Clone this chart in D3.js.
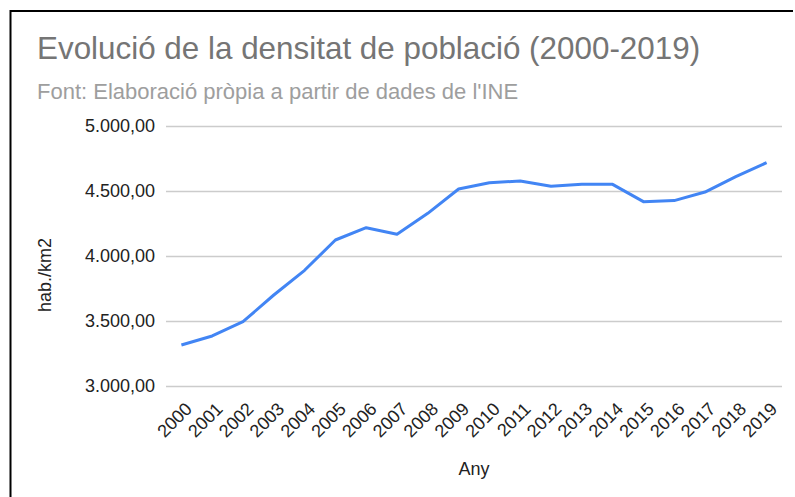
<!DOCTYPE html>
<html>
<head>
<meta charset="utf-8">
<script src="https://cdn.jsdelivr.net/npm/d3@7"></script>
<style>
    body { margin: 0; background: #fff; }
    text { font-family: Arial, "Liberation Sans", sans-serif; }
</style>
</head>
<body>
<div id="chart"></div>
<script>

// data
let years = ["2000", "2001", "2002", "2003", "2004", "2005", "2006", "2007", "2008", "2009",
             "2010", "2011", "2012", "2013", "2014", "2015", "2016", "2017", "2018", "2019"];
let density = [3315, 3385, 3495, 3700, 3890, 4123, 4218, 4167, 4328, 4515,
               4564, 4577, 4536, 4551, 4551, 4418, 4426, 4492, 4610, 4718];
let yTicks = [3000, 3500, 4000, 4500, 5000];

let titleText = "Evolució de la densitat de població (2000-2019)";
let subtitleText = "Font: Elaboració pròpia a partir de dades de l'INE";

let width = 795, height = 497;
let margin = {top: 126, right: 13, bottom: 111, left: 166};

let svg = d3.select("#chart").append("svg")
    .attr("width", width)
    .attr("height", height);

// frame (only top and left edges show)
svg.append("path")
    .attr("d", "M10.5,500 L10.5,11 L793,11")
    .attr("fill", "none")
    .attr("stroke", "#000")
    .attr("stroke-width", 2);

svg.append("text")
    .attr("x", 37)
    .attr("y", 59)
    .attr("font-size", "31.4px")
    .attr("fill", "#757575")
    .text(titleText);

svg.append("text")
    .attr("x", 37)
    .attr("y", 99)
    .attr("font-size", "22px")
    .attr("fill", "#9e9e9e")
    .text(subtitleText);

let x = d3.scalePoint()
    .domain(years)
    .range([margin.left, width - margin.right])
    .padding(0.5);

let y = d3.scaleLinear()
    .domain([3000, 5000])
    .range([height - margin.bottom, margin.top]);

let fmt = d3.formatLocale({decimal: ",", thousands: ".", grouping: [3], currency: ["", ""]}).format(",.2f");

// gridlines + y labels
let yAxis = svg.append("g")
    .attr("transform", `translate(${margin.left},0)`)
    .call(d3.axisLeft(y).tickValues(yTicks).tickFormat(fmt)
        .tickSize(-(width - margin.right - margin.left)).tickPadding(11));

yAxis.select(".domain").remove();
yAxis.selectAll(".tick line").attr("stroke", "#cccccc").attr("stroke-width", 1.5);
yAxis.selectAll(".tick text")
    .attr("font-size", "18px")
    .attr("fill", "#222")
    .style("font-family", "Arial, 'Liberation Sans', sans-serif");

// x labels, rotated
let xAxis = svg.append("g")
    .attr("transform", `translate(0,${height - margin.bottom})`)
    .call(d3.axisBottom(x).tickSize(0));

xAxis.select(".domain").remove();
xAxis.selectAll(".tick text")
    .attr("font-size", "18px")
    .attr("fill", "#222")
    .style("font-family", "Arial, 'Liberation Sans', sans-serif")
    .attr("text-anchor", "end")
    .attr("dy", 0)
    .attr("transform", "translate(9,22) rotate(-45)");

// line
let line = d3.line()
    .x((d, i) => x(years[i]))
    .y(d => y(d));

svg.append("path")
    .datum(density)
    .attr("fill", "none")
    .attr("stroke", "#4285f4")
    .attr("stroke-width", 3)
    .attr("stroke-linejoin", "round")
    .attr("d", line);

// axis titles
svg.append("text")
    .attr("x", (margin.left + width - margin.right) / 2)
    .attr("y", 475)
    .attr("text-anchor", "middle")
    .attr("font-size", "18px")
    .attr("fill", "#222")
    .text("Any");

svg.append("text")
    .attr("transform", `translate(51,275) rotate(-90)`)
    .attr("text-anchor", "middle")
    .attr("font-size", "18px")
    .attr("fill", "#222")
    .text("hab./km2");

</script>
</body>
</html>
